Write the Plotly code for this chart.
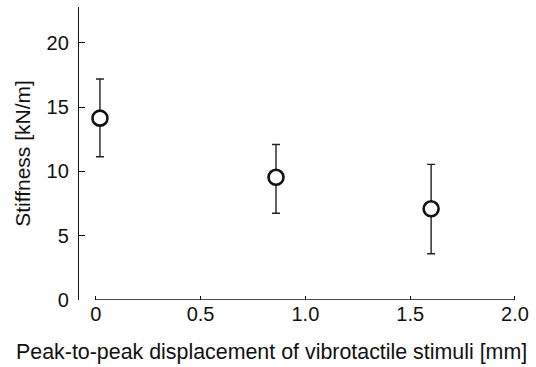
import plotly.graph_objects as go

displacement = [0.02, 0.86, 1.60]
stiffness = [14.15, 9.55, 7.1]
err_plus = [3.05, 2.55, 3.45]
err_minus = [3.0, 2.8, 3.5]

x_ticks = [0, 0.5, 1.0, 1.5, 2.0]
x_labels = ["0", "0.5", "1.0", "1.5", "2.0"]
y_ticks = [0, 5, 10, 15, 20]

font = "Liberation Sans, Arial, Helvetica, sans-serif"

fig = go.Figure()
fig.add_trace(go.Scatter(
    x=displacement, y=stiffness, mode="markers",
    marker=dict(size=15, color="white", line=dict(color="#111", width=2.6), symbol="circle"),
    error_y=dict(type="data", symmetric=False, array=err_plus, arrayminus=err_minus,
                 color="#222", thickness=1.4, width=4),
    showlegend=False, cliponaxis=False,
))

# x-axis baseline spanning the data range only
fig.add_shape(type="line", xref="x", yref="y", x0=0, x1=2.0, y0=0, y1=0,
              line=dict(color="#111", width=1.6))

fig.add_annotation(text="Peak-to-peak displacement of vibrotactile stimuli [mm]",
                   xref="paper", yref="paper", x=0.44, y=-0.177,
                   xanchor="center", yanchor="middle", showarrow=False,
                   font=dict(size=21.4, family=font, color="#111"))

fig.update_layout(
    width=536, height=367,
    margin=dict(l=79, r=16, t=7, b=67),
    paper_bgcolor="white", plot_bgcolor="white",
    font=dict(family=font, size=20, color="#111"),
    xaxis=dict(range=[-0.08, 2.005], tickvals=x_ticks, ticktext=x_labels,
               showline=False, showgrid=False, zeroline=False,
               ticks="inside", ticklen=4, tickwidth=1.2, tickcolor="#111",
               tickfont=dict(size=20)),
    yaxis=dict(range=[0, 22.8], tickvals=y_ticks,
               showline=True, linecolor="#111", linewidth=1.4, mirror=False,
               showgrid=False, zeroline=False,
               ticks="inside", ticklen=6, tickwidth=1.4, tickcolor="#111",
               ticklabelstandoff=5,
               title=dict(text="Stiffness [kN/m]", standoff=10, font=dict(size=21)),
               tickfont=dict(size=20)),
)

fig.write_html("out.html")
